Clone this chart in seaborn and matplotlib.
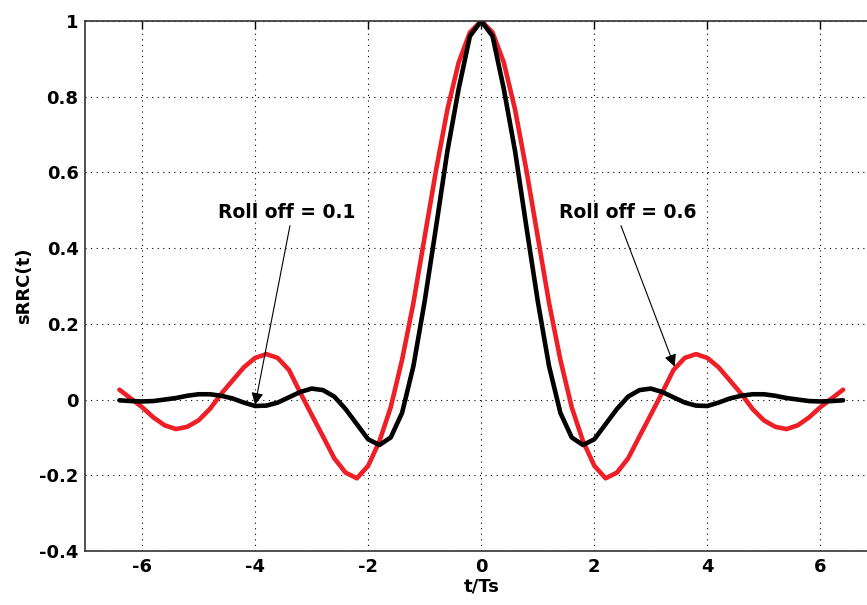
import matplotlib
matplotlib.use("Agg")
import matplotlib.pyplot as plt
import seaborn as sns
import pandas as pd

# t/Ts samples
t_ts = [-6.4, -6.2, -6.0, -5.8, -5.6, -5.4, -5.2, -5.0, -4.8, -4.6, -4.4, -4.2,
        -4.0, -3.8, -3.6, -3.4, -3.2, -3.0, -2.8, -2.6, -2.4, -2.2, -2.0, -1.8,
        -1.6, -1.4, -1.2, -1.0, -0.8, -0.6, -0.4, -0.2, 0.0, 0.2, 0.4, 0.6, 0.8,
        1.0, 1.2, 1.4, 1.6, 1.8, 2.0, 2.2, 2.4, 2.6, 2.8, 3.0, 3.2, 3.4, 3.6,
        3.8, 4.0, 4.2, 4.4, 4.6, 4.8, 5.0, 5.2, 5.4, 5.6, 5.8, 6.0, 6.2, 6.4]

# red curve
srrc_red = [0.026, 0.003, -0.020, -0.047, -0.068, -0.078, -0.072, -0.055, -0.025, 0.015,
            0.050, 0.085, 0.110, 0.120, 0.110, 0.078, 0.018, -0.040, -0.097, -0.155,
            -0.193, -0.208, -0.175, -0.110, -0.020, 0.105, 0.255, 0.430, 0.605, 0.765,
            0.890, 0.970, 1.000, 0.970, 0.890, 0.765, 0.605, 0.430, 0.255, 0.105,
            -0.020, -0.110, -0.175, -0.208, -0.193, -0.155, -0.097, -0.040, 0.018, 0.078,
            0.110, 0.120, 0.110, 0.085, 0.050, 0.015, -0.025, -0.055, -0.072, -0.078,
            -0.068, -0.047, -0.020, 0.003, 0.026]

# black curve
srrc_black = [-0.002, -0.004, -0.005, -0.004, 0.000, 0.004, 0.010, 0.014, 0.014, 0.010,
              0.003, -0.008, -0.017, -0.016, -0.008, 0.006, 0.020, 0.029, 0.025, 0.008,
              -0.025, -0.065, -0.105, -0.120, -0.100, -0.035, 0.088, 0.260, 0.455, 0.655,
              0.820, 0.960, 1.000, 0.960, 0.820, 0.655, 0.455, 0.260, 0.088, -0.035,
              -0.100, -0.120, -0.105, -0.065, -0.025, 0.008, 0.025, 0.029, 0.020, 0.006,
              -0.008, -0.016, -0.017, -0.008, 0.003, 0.010, 0.014, 0.014, 0.010, 0.004,
              0.000, -0.004, -0.005, -0.004, -0.002]

x_ticks = [-6, -4, -2, 0, 2, 4, 6]
y_ticks = [-0.4, -0.2, 0, 0.2, 0.4, 0.6, 0.8, 1]
y_tick_labels = ["-0.4", "-0.2", "0", "0.2", "0.4", "0.6", "0.8", "1"]

df = pd.DataFrame({"t": t_ts, "red": srrc_red, "black": srrc_black})

sns.set_style("white")
plt.rcParams['font.family'] = ['DejaVu Sans']
plt.rcParams['font.weight'] = 'bold'
plt.rcParams['text.color'] = 'black'
plt.rcParams['axes.labelcolor'] = 'black'
plt.rcParams['xtick.color'] = 'black'
plt.rcParams['ytick.color'] = 'black'

fig = plt.figure(figsize=(8.67, 6.05), dpi=100)
ax = fig.add_axes([0.0986, 0.0893, 0.9129, 0.876])

sns.lineplot(data=df, x="t", y="red", color="#ee1f26", linewidth=3.3, ax=ax, sort=False)
sns.lineplot(data=df, x="t", y="black", color="black", linewidth=3.3, ax=ax, sort=False)

ax.set_xlim(-7, 7)
ax.set_ylim(-0.4, 1)
ax.set_xticks(x_ticks)
ax.set_xticklabels([str(v) for v in x_ticks])
ax.set_yticks(y_ticks)
ax.set_yticklabels(y_tick_labels)
ax.grid(True, linestyle=(0, (1, 4)), color="black", linewidth=0.8)
ax.set_axisbelow(True)
ax.tick_params(direction="in", length=6, width=1, top=True, right=True,
               labelsize=13, pad=5, colors="black")
for lbl in ax.get_xticklabels() + ax.get_yticklabels():
    lbl.set_fontweight("bold")
for sp in ax.spines.values():
    sp.set_color("#333333")
    sp.set_linewidth(1.2)

ax.set_xlabel("t/Ts", fontsize=13, fontweight="bold", labelpad=1)
ax.set_ylabel("sRRC(t)", fontsize=13, fontweight="bold", labelpad=4)

ax.annotate("Roll off = 0.1", xy=(-4.0, -0.014), xytext=(-4.66, 0.493),
            fontsize=13.5, fontweight="bold", va="center", ha="left", color="black",
            arrowprops=dict(arrowstyle="-|>", color="black", lw=0.8,
                            mutation_scale=18, shrinkA=0, shrinkB=0,
                            relpos=(0.53, 0.0)))
ax.annotate("Roll off = 0.6", xy=(3.42, 0.087), xytext=(1.38, 0.493),
            fontsize=13.5, fontweight="bold", va="center", ha="left", color="black",
            arrowprops=dict(arrowstyle="-|>", color="black", lw=0.8,
                            mutation_scale=18, shrinkA=0, shrinkB=0,
                            relpos=(0.44, 0.0)))

fig.savefig("out.png", dpi=100)
